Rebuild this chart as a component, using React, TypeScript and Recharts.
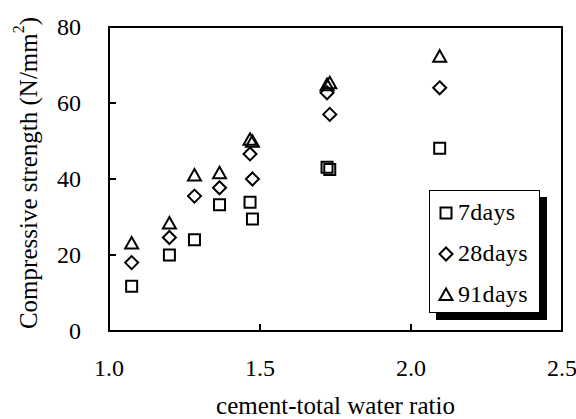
import React from "react";
import { ScatterChart, Scatter, XAxis, YAxis, Legend, Label } from "recharts";

const FONT = "'Liberation Serif', 'Times New Roman', serif";

// cement-total water ratio for each mix
const ratio = [1.075, 1.2, 1.283, 1.366, 1.467, 1.475, 1.722, 1.731, 2.095];

// compressive strength (N/mm2)
const days7 = [11.8, 20.0, 24.0, 33.2, 33.9, 29.5, 43.1, 42.5, 48.1];
const days28 = [18.0, 24.6, 35.5, 37.7, 46.6, 40.0, 62.7, 57.0, 64.0];
const days91 = [23.0, 28.3, 40.9, 41.5, 50.3, 49.8, 64.7, 65.2, 72.2];

const xDomain = [1.0, 2.5];
const yDomain = [0, 80];
const xTicks = [1.0, 1.5, 2.0, 2.5];
const yTicks = [0, 20, 40, 60, 80];

type Marker = "square" | "diamond" | "triangle";

const series: { name: string; values: number[]; marker: Marker }[] = [
  { name: "7days", values: days7, marker: "square" },
  { name: "28days", values: days28, marker: "diamond" },
  { name: "91days", values: days91, marker: "triangle" },
];

// chart layout
const WIDTH = 576;
const HEIGHT = 419;
const MARGIN = { top: 27, right: 14, bottom: 0, left: 0 };
const Y_AXIS_WIDTH = 109;
const X_AXIS_HEIGHT = 88;
const PLOT_W = WIDTH - MARGIN.left - MARGIN.right - Y_AXIS_WIDTH;
const PLOT_H = HEIGHT - MARGIN.top - MARGIN.bottom - X_AXIS_HEIGHT;

// plot box hangs from its top-right corner; inner ticks sit on the axes
const frameCorner = [{ x: xDomain[1], y: yDomain[1] }];
const innerXTicks = xTicks
  .filter((t) => t > xDomain[0] && t < xDomain[1])
  .map((t) => ({ x: t, y: yDomain[0], dir: "up" }));
const innerYTicks = yTicks
  .filter((t) => t > yDomain[0] && t < yDomain[1])
  .map((t) => ({ x: xDomain[0], y: t, dir: "right" }));

function markerPath(marker: Marker, cx: number, cy: number) {
  if (marker === "square") {
    return `M${cx - 5.5},${cy - 5.5}h11v11h-11Z`;
  }
  if (marker === "diamond") {
    return `M${cx},${cy - 6.5}L${cx + 6.5},${cy}L${cx},${cy + 6.5}L${cx - 6.5},${cy}Z`;
  }
  return `M${cx},${cy - 6.5}L${cx + 6.5},${cy + 5}L${cx - 6.5},${cy + 5}Z`;
}

function makeShape(marker: Marker) {
  return (props: any) => {
    const { cx, cy } = props;
    if (cx == null || cy == null) return <g />;
    return (
      <path
        d={markerPath(marker, cx, cy)}
        fill="none"
        stroke="#000"
        strokeWidth={2}
      />
    );
  };
}

function FrameShape(props: any) {
  const { cx, cy } = props;
  if (cx == null || cy == null) return <g />;
  return (
    <path
      d={`M${cx - PLOT_W},${cy}H${cx}V${cy + PLOT_H}H${cx - PLOT_W}Z`}
      fill="none"
      stroke="#000"
      strokeWidth={2}
    />
  );
}

function TickShape(props: any) {
  const { cx, cy, payload } = props;
  if (cx == null || cy == null) return <g />;
  const d = payload?.dir === "up" ? `M${cx},${cy}v-7` : `M${cx},${cy}h7`;
  return <path d={d} fill="none" stroke="#000" strokeWidth={2} />;
}

const Y_MARGIN = 28;
const X_MARGIN = 28;

function YTick(props: any) {
  const { x, y, payload } = props;
  return (
    <text
      x={x}
      y={y}
      textAnchor="end"
      dominantBaseline="central"
      fontFamily={FONT}
      fontSize={24}
      fill="#000"
    >
      {payload.value}
    </text>
  );
}

function XTick(props: any) {
  const { x, y, payload } = props;
  return (
    <text
      x={x}
      y={y}
      textAnchor="middle"
      dominantBaseline="hanging"
      fontFamily={FONT}
      fontSize={24}
      fill="#000"
    >
      {payload.value.toFixed(1)}
    </text>
  );
}

function YLabel(props: any) {
  const { viewBox } = props;
  const cx = viewBox.x + 28;
  const cy = viewBox.y + viewBox.height / 2 - 6;
  return (
    <text
      x={cx}
      y={cy}
      transform={`rotate(-90, ${cx}, ${cy})`}
      textAnchor="middle"
      dominantBaseline="central"
      fontFamily={FONT}
      fontSize={25}
      fill="#000"
    >
      Compressive strength (N/mm
      <tspan fontSize={16} dy={-10}>
        2
      </tspan>
      <tspan dy={10}>)</tspan>
    </text>
  );
}

function XLabel(props: any) {
  const { viewBox } = props;
  return (
    <text
      x={viewBox.x + viewBox.width / 2}
      y={viewBox.y + 74}
      textAnchor="middle"
      dominantBaseline="central"
      fontFamily={FONT}
      fontSize={25}
      fill="#000"
    >
      cement-total water ratio
    </text>
  );
}

function LegendBox() {
  return (
    <div
      style={{
        width: 109,
        height: 120,
        border: "1.5px solid #000",
        background: "#fff",
        boxShadow: "7px 7px 0 #000",
        boxSizing: "content-box",
        paddingTop: 1,
      }}
    >
      {series.map((s) => (
        <div
          key={s.name}
          style={{
            display: "flex",
            alignItems: "center",
            height: 41,
            fontFamily: FONT,
            fontSize: 24,
            letterSpacing: 0.3,
            whiteSpace: "nowrap",
          }}
        >
          <svg width={28} height={20} style={{ flex: "none" }}>
            <path
              d={markerPath(s.marker, 16, 10)}
              fill="none"
              stroke="#000"
              strokeWidth={2}
            />
          </svg>
          <span>{s.name}</span>
        </div>
      ))}
    </div>
  );
}

export default function App() {
  return (
    <div style={{ position: "absolute", left: 0, top: 0, background: "#fff" }}>
      <ScatterChart width={WIDTH} height={HEIGHT} margin={MARGIN}>
        <XAxis
          type="number"
          dataKey="x"
          domain={xDomain}
          ticks={xTicks}
          interval={0}
          tickLine={false}
          tickSize={0}
          tickMargin={X_MARGIN}
          tick={<XTick />}
          axisLine={{ stroke: "#000", strokeWidth: 2 }}
          height={X_AXIS_HEIGHT}
        >
          <Label content={<XLabel />} />
        </XAxis>
        <YAxis
          type="number"
          dataKey="y"
          domain={yDomain}
          ticks={yTicks}
          interval={0}
          tickLine={false}
          tickSize={0}
          tickMargin={Y_MARGIN}
          tick={<YTick />}
          axisLine={{ stroke: "#000", strokeWidth: 2 }}
          width={Y_AXIS_WIDTH}
        >
          <Label content={<YLabel />} />
        </YAxis>
        <Scatter
          name="frame"
          data={frameCorner}
          shape={FrameShape}
          legendType="none"
          isAnimationActive={false}
        />
        <Scatter
          name="ticks"
          data={[...innerXTicks, ...innerYTicks]}
          shape={TickShape}
          legendType="none"
          isAnimationActive={false}
        />
        {series.map((s) => (
          <Scatter
            key={s.name}
            name={s.name}
            data={ratio.map((r, i) => ({ x: r, y: s.values[i] }))}
            shape={makeShape(s.marker)}
            isAnimationActive={false}
          />
        ))}
        <Legend
          layout="vertical"
          align="center"
          verticalAlign="middle"
          content={<LegendBox />}
          wrapperStyle={{ left: 429, top: 190, width: "auto", height: "auto" }}
        />
      </ScatterChart>
    </div>
  );
}
